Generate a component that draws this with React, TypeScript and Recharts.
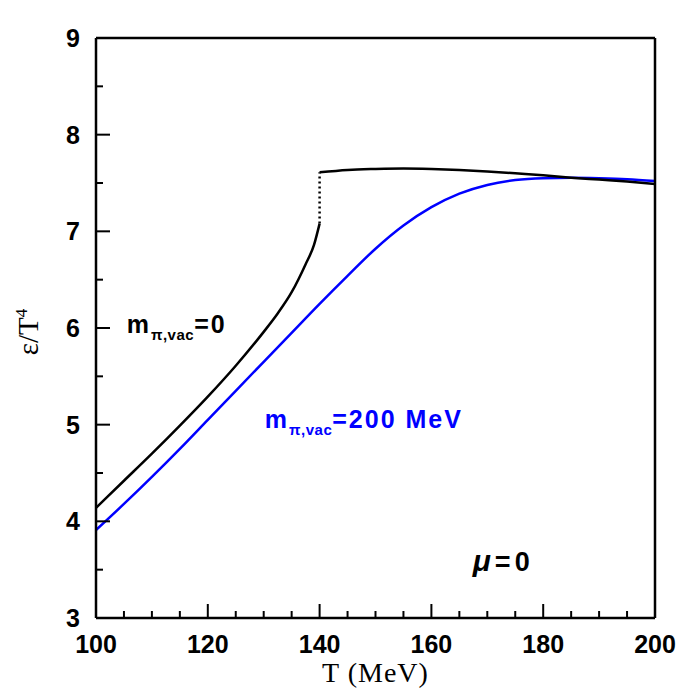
import { LineChart, Line, XAxis, YAxis, ReferenceDot } from "recharts";

// temperature grid (MeV) and energy density / T^4
const lowT = [100, 105, 110, 115, 120, 125, 130, 132.5, 135, 137.5, 139, 140];
const lowEps = [4.14, 4.42, 4.7, 4.99, 5.29, 5.61, 5.96, 6.15, 6.37, 6.66, 6.86, 7.08];

const upT = [140, 145, 150, 155, 160, 165, 170, 175, 180, 185, 190, 195, 200];
const upEps = [7.61, 7.635, 7.645, 7.65, 7.645, 7.635, 7.62, 7.6, 7.58, 7.555, 7.535, 7.515, 7.49];

const jumpT = [140, 140];
const jumpEps = [7.08, 7.61];

const blueT = [100, 105, 110, 115, 120, 125, 130, 135, 140, 145, 150, 155, 160, 165, 170, 175, 180, 185, 190, 195, 200];
const blueEps = [3.91, 4.18, 4.46, 4.75, 5.05, 5.35, 5.65, 5.95, 6.25, 6.54, 6.82, 7.06, 7.25, 7.39, 7.48, 7.53, 7.55, 7.555, 7.55, 7.54, 7.52];

const xTicks = [100, 105, 110, 115, 120, 125, 130, 135, 140, 145, 150, 155, 160, 165, 170, 175, 180, 185, 190, 195, 200];
const yTicks = [3, 3.5, 4, 4.5, 5, 5.5, 6, 6.5, 7, 7.5, 8, 8.5, 9];

const zip = (ts: number[], vs: number[]) => ts.map((t, i) => ({ t, v: vs[i] }));

const sans = "'Liberation Sans', Arial, sans-serif";
const serif = "'Liberation Serif', 'DejaVu Serif', serif";

const BottomTick = ({ x, y, payload }: any) => {
  const major = payload.value % 20 === 0;
  return (
    <g>
      <line x1={x} y1={y} x2={x} y2={y - (major ? 14 : 7)} stroke="#000" strokeWidth={2} />
      {major && (
        <text x={x} y={y + 35} textAnchor="middle" fontFamily={sans} fontWeight="bold" fontSize={25} fill="#000">
          {payload.value}
        </text>
      )}
    </g>
  );
};

const TopTick = ({ x, y, payload }: any) => {
  const major = payload.value % 20 === 0;
  return <line x1={x} y1={y} x2={x} y2={y + (major ? 14 : 7)} stroke="#000" strokeWidth={2} />;
};

const LeftTick = ({ x, y, payload }: any) => {
  const major = Number.isInteger(payload.value);
  return (
    <g>
      <line x1={x} y1={y} x2={x + (major ? 14 : 7)} y2={y} stroke="#000" strokeWidth={2} />
      {major && (
        <text x={x - 16} y={y + 9} textAnchor="end" fontFamily={sans} fontWeight="bold" fontSize={25} fill="#000">
          {payload.value}
        </text>
      )}
    </g>
  );
};

const RightTick = ({ x, y, payload }: any) => {
  const major = Number.isInteger(payload.value);
  return <line x1={x} y1={y} x2={x - (major ? 14 : 7)} y2={y} stroke="#000" strokeWidth={2} />;
};

const MassLabel = ({ viewBox, color, rest }: any) => (
  <text x={viewBox.x} y={viewBox.y} fontFamily={sans} fontWeight="bold" fontSize={25} letterSpacing={2} fill={color}>
    m
    <tspan fontSize={15} letterSpacing={0.5} dy={7}>π,vac</tspan>
    <tspan dy={-7}>={rest}</tspan>
  </text>
);

const MuLabel = ({ viewBox }: any) => (
  <text x={viewBox.x} y={viewBox.y} fontFamily={sans} fontWeight="bold" fontSize={27} letterSpacing={4} fill="#000">
    <tspan fontStyle="italic" fontSize={30}>μ</tspan>=0
  </text>
);

const YTitle = () => (
  <text transform="translate(30,324) rotate(-90)" textAnchor="middle" fontFamily={serif} fontSize={29} fill="#000">
    ε/T<tspan fontSize={17} dy={-11}>4</tspan>
  </text>
);

export default function App() {
  return (
    <LineChart width={692} height={692} margin={{ top: 29, right: 44, left: 28, bottom: 32 }}>
      <XAxis
        xAxisId="b"
        dataKey="t"
        type="number"
        domain={[100, 200]}
        ticks={xTicks}
        interval={0}
        tickSize={0}
        tickMargin={0}
        tickLine={false}
        axisLine={{ stroke: "#000", strokeWidth: 2.5 }}
        tick={<BottomTick />}
        height={50}
        label={{ value: "T (MeV)", position: "insideBottom", offset: -14, fontFamily: serif, fontSize: 28, letterSpacing: 1, fill: "#000" }}
        allowDuplicatedCategory={false}
      />
      <XAxis
        xAxisId="t"
        orientation="top"
        dataKey="t"
        type="number"
        domain={[100, 200]}
        ticks={xTicks}
        interval={0}
        tickSize={0}
        tickMargin={0}
        tickLine={false}
        axisLine={{ stroke: "#000", strokeWidth: 2.5 }}
        tick={<TopTick />}
        height={1}
        allowDuplicatedCategory={false}
      />
      <YAxis
        yAxisId="l"
        type="number"
        domain={[3, 9]}
        ticks={yTicks}
        interval={0}
        tickSize={0}
        tickMargin={0}
        tickLine={false}
        axisLine={{ stroke: "#000", strokeWidth: 2.5 }}
        tick={<LeftTick />}
        width={60}
        label={{ content: <YTitle /> }}
      />
      <YAxis
        yAxisId="r"
        orientation="right"
        type="number"
        domain={[3, 9]}
        ticks={yTicks}
        interval={0}
        tickSize={0}
        tickMargin={0}
        tickLine={false}
        axisLine={{ stroke: "#000", strokeWidth: 2.5 }}
        tick={<RightTick />}
        width={1}
      />
      <Line xAxisId="b" yAxisId="l" data={zip(blueT, blueEps)} dataKey="v" type="monotone" stroke="#0000ff" strokeWidth={2.5} dot={false} isAnimationActive={false} />
      <Line xAxisId="b" yAxisId="l" data={zip(lowT, lowEps)} dataKey="v" type="monotone" stroke="#000" strokeWidth={2.5} dot={false} isAnimationActive={false} />
      <Line xAxisId="b" yAxisId="l" data={zip(upT, upEps)} dataKey="v" type="monotone" stroke="#000" strokeWidth={2.5} dot={false} isAnimationActive={false} />
      <Line xAxisId="b" yAxisId="l" data={zip(jumpT, jumpEps)} dataKey="v" type="linear" stroke="#000" strokeWidth={2.5} strokeDasharray="2 3" dot={false} isAnimationActive={false} />
      <ReferenceDot xAxisId="b" yAxisId="l" x={105.5} y={5.95} r={0} label={<MassLabel color="#000" rest="0" />} />
      <ReferenceDot xAxisId="b" yAxisId="l" x={130.2} y={4.97} r={0} label={<MassLabel color="#0000ff" rest="200 MeV" />} />
      <ReferenceDot xAxisId="b" yAxisId="l" x={167.4} y={3.49} r={0} label={<MuLabel />} />
    </LineChart>
  );
}
